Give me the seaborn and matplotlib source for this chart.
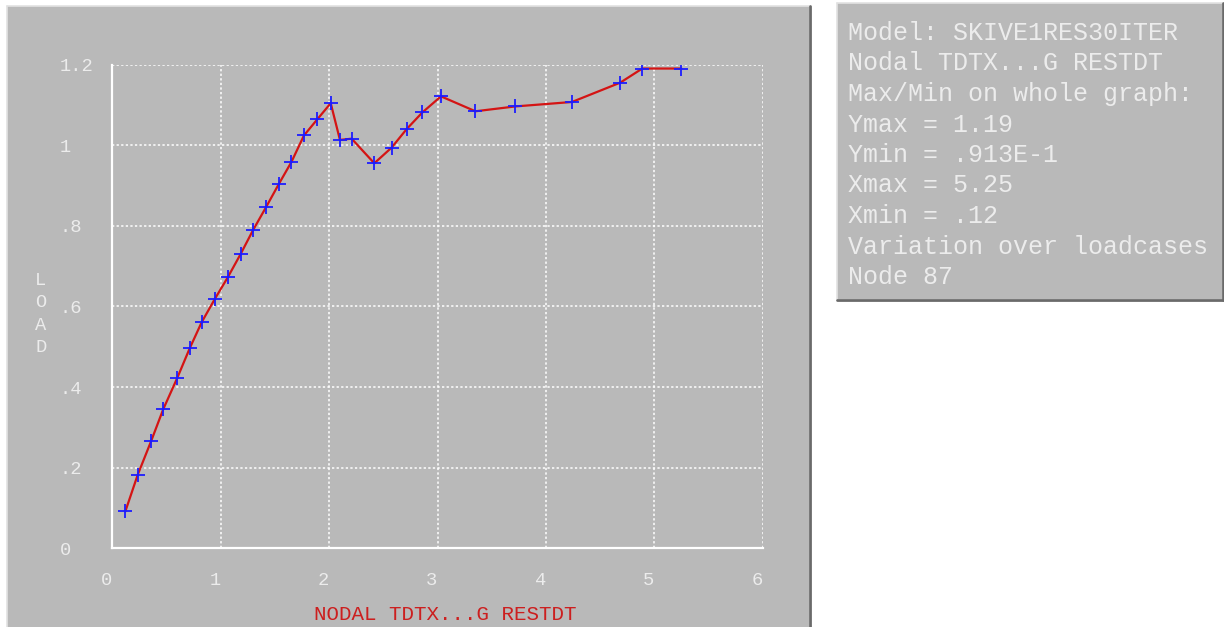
import matplotlib
matplotlib.use("Agg")
import matplotlib.pyplot as plt
from matplotlib.patches import Rectangle
from matplotlib.lines import Line2D
import seaborn as sns
import pandas as pd

# Load-displacement history at node 87 (30 load increments)
displacement = [0.12, 0.234, 0.357, 0.47, 0.60, 0.714, 0.825, 0.947, 1.065, 1.184,
                1.30, 1.418, 1.535, 1.652, 1.768, 1.891, 2.015, 2.10, 2.208, 2.417,
                2.577, 2.716, 2.86, 3.032, 3.35, 3.718, 4.24, 4.686, 4.889, 5.25]
load = [0.0913, 0.182, 0.265, 0.345, 0.423, 0.496, 0.561, 0.619, 0.672, 0.730,
        0.790, 0.846, 0.903, 0.958, 1.024, 1.064, 1.104, 1.013, 1.016, 0.955,
        0.994, 1.040, 1.081, 1.121, 1.084, 1.096, 1.107, 1.155, 1.19, 1.19]

x_ticks = [0, 1, 2, 3, 4, 5, 6]
x_tick_labels = ["0", "1", "2", "3", "4", "5", "6"]
y_ticks = [0, 0.2, 0.4, 0.6, 0.8, 1.0, 1.2]
y_tick_labels = ["0", ".2", ".4", ".6", ".8", "1", "1.2"]

x_title = "NODAL TDTX...G RESTDT"
y_title = "LOAD"
info_lines = [
    "Model: SKIVE1RES30ITER",
    "Nodal TDTX...G RESTDT",
    "Max/Min on whole graph:",
    "Ymax = 1.19",
    "Ymin = .913E-1",
    "Xmax = 5.25",
    "Xmin = .12",
    "Variation over loadcases",
    "Node 87",
]

df = pd.DataFrame({"disp": displacement, "load": load})

W, H = 1224, 627
PANEL = "#b9b9b9"
TXT = "#ececec"
FONT = "Liberation Mono"

sns.set_style("white")
plt.rcParams["font.family"] = [FONT, "DejaVu Sans"]

fig = plt.figure(figsize=(W / 100, H / 100), dpi=100)
fig.patch.set_facecolor("white")


def px_rect(x0, y0, x1, y1, **kw):
    """Rectangle given in pixel coordinates measured from the top-left."""
    r = Rectangle((x0 / W, 1 - y1 / H), (x1 - x0) / W, (y1 - y0) / H,
                  transform=fig.transFigure, zorder=-10, **kw)
    fig.patches.append(r)


def px_line(x0, y0, x1, y1, color, lw):
    fig.add_artist(Line2D([x0 / W, x1 / W], [1 - y0 / H, 1 - y1 / H],
                          transform=fig.transFigure, color=color, lw=lw,
                          zorder=-5))


# graph panel
px_rect(7, 6, 809, 640, facecolor=PANEL, edgecolor="none")
px_line(7, 6, 809, 6, "#e2e2e2", 1.2)
px_line(7, 6, 7, 640, "#e2e2e2", 1.2)
px_line(809.5, 6, 809.5, 640, "#6a6a6a", 2.0)

# info panel
px_rect(837, 3, 1222, 299, facecolor=PANEL, edgecolor="none")
px_line(837, 3, 1222, 3, "#e2e2e2", 1.2)
px_line(837, 3, 837, 299, "#e2e2e2", 1.2)
px_line(837, 299.5, 1223, 299.5, "#6a6a6a", 2.0)
px_line(1222.5, 3, 1222.5, 300, "#6a6a6a", 2.0)

for i, line in enumerate(info_lines):
    fig.text(848 / W, 1 - (33 + 30.5 * i) / H, line, ha="left", va="center",
             fontsize=18, color=TXT, family=FONT)

# plot axes
ax_l, ax_r, ax_t, ax_b = 112.3, 762.7, 64.5, 548.3
ax = fig.add_axes([ax_l / W, 1 - ax_b / H, (ax_r - ax_l) / W, (ax_b - ax_t) / H])
ax.patch.set_alpha(0)

sns.lineplot(data=df, x="disp", y="load", ax=ax, color="#d41414", lw=1.6,
             marker="+", markersize=9.5, mew=1.3, mec="#1c1cff", mfc="#1c1cff",
             estimator=None, sort=False, zorder=3)

ax.set_xlim(0, 6)
ax.set_ylim(0, 1.2)
ax.set_xticks(x_ticks)
ax.set_xticklabels(x_tick_labels)
ax.set_yticks(y_ticks)
ax.set_yticklabels(y_tick_labels)

ax.grid(True, color="white", lw=1.1, linestyle=(0, (1.5, 1.5)))
ax.set_axisbelow(True)

for side in ("top", "right"):
    ax.spines[side].set_visible(False)
for side in ("left", "bottom"):
    ax.spines[side].set_color("white")
    ax.spines[side].set_linewidth(1.6)

ax.tick_params(axis="both", direction="out", length=9, width=1.4, color="white",
               labelcolor=TXT, labelsize=13.5)
ax.tick_params(axis="y", pad=29)
ax.tick_params(axis="x", pad=8)
for lab in ax.get_yticklabels():
    lab.set_horizontalalignment("left")
    lab.set_family(FONT)
for lab in ax.get_xticklabels():
    lab.set_horizontalalignment("right")
    lab.set_family(FONT)

ax.set_xlabel(x_title, color="#cc1f1f", fontsize=15, family=FONT, va="center")
ax.xaxis.set_label_coords((445 - ax_l) / (ax_r - ax_l), (ax_b - 614) / (ax_b - ax_t))

ax.set_ylabel("\n".join(y_title), rotation=0, color=TXT, fontsize=13.5,
              family=FONT, ha="center", va="center", linespacing=1.42)
ax.yaxis.set_label_coords((41 - ax_l) / (ax_r - ax_l), (ax_b - 314) / (ax_b - ax_t))

fig.savefig("out.png", dpi=100)
